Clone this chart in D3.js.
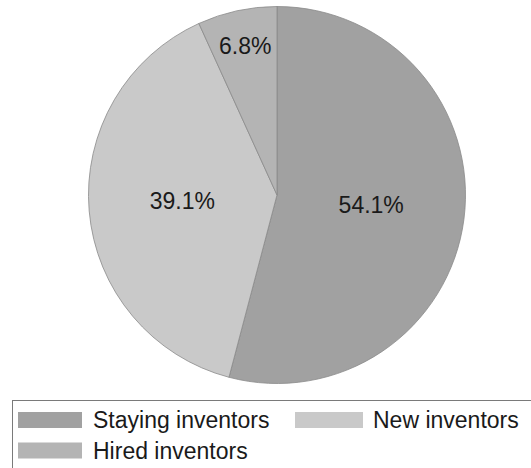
<!DOCTYPE html>
<html>
<head>
<meta charset="utf-8">
<script src="https://cdn.jsdelivr.net/npm/d3@7"></script>
<style>
  body { margin: 0; background: #fff; }
  svg { display: block; font-family: "Liberation Sans", Arial, sans-serif; }
</style>
</head>
<body>
<script>
const width = 531;
const height = 468;

// data
const categories = ["Staying inventors", "New inventors", "Hired inventors"];
const shares = [54.1, 39.1, 6.8];
const labels = ["54.1%", "39.1%", "6.8%"];
const colors = ["#a1a1a1", "#c9c9c9", "#b4b4b4"];
const labelRadius = [95, 95, 150];

const svg = d3.select("body")
    .append("svg")
    .attr("width", width)
    .attr("height", height);

const cx = 277, cy = 195, radius = 188.5;

const pie = d3.pie().sort(null).value(d => d);
const arcs = pie(shares);

const arc = d3.arc().innerRadius(0).outerRadius(radius);

const g = svg.append("g").attr("transform", `translate(${cx},${cy})`);

g.selectAll("path")
    .data(arcs)
    .join("path")
    .attr("d", arc)
    .attr("fill", (d, i) => colors[i])
    .attr("stroke", "#8a8a8a")
    .attr("stroke-width", 0.8);

g.selectAll("text")
    .data(arcs)
    .join("text")
    .attr("transform", (d, i) => {
        const la = d3.arc().innerRadius(labelRadius[i]).outerRadius(labelRadius[i]);
        return `translate(${la.centroid(d)})`;
    })
    .attr("text-anchor", "middle")
    .attr("dy", "0.25em")
    .attr("font-size", 23)
    .attr("fill", "#1a1a1a")
    .text((d, i) => labels[i]);

// legend
const legend = svg.append("g");
legend.append("rect")
    .attr("x", 12.5)
    .attr("y", 400.5)
    .attr("width", 530)
    .attr("height", 80)
    .attr("fill", "#fff")
    .attr("stroke", "#7a7a7a")
    .attr("stroke-width", 1);

const legendPos = [[18, 412], [295, 412], [18, 442.5]];

const items = legend.selectAll("g.item")
    .data(categories)
    .join("g")
    .attr("class", "item")
    .attr("transform", (d, i) => `translate(${legendPos[i][0]},${legendPos[i][1]})`);

items.append("rect")
    .attr("width", (d, i) => i === 1 ? 68 : 64)
    .attr("height", 16)
    .attr("fill", (d, i) => colors[i]);

items.append("text")
    .attr("x", (d, i) => i === 1 ? 78 : 75)
    .attr("y", 16)
    .attr("font-size", 23)
    .attr("fill", "#1a1a1a")
    .text(d => d);
</script>
</body>
</html>
